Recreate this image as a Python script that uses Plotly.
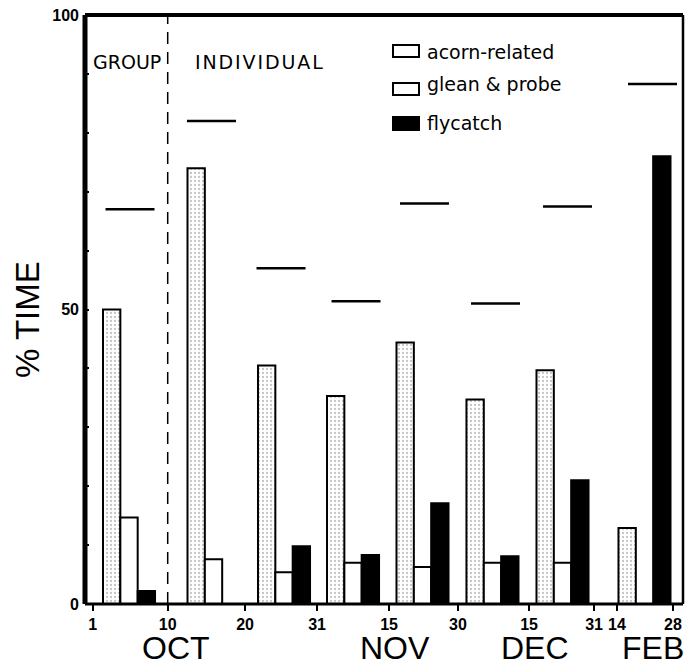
import plotly.graph_objects as go

# ---- data ----
series_names = ["acorn-related", "glean & probe", "flycatch"]
acorn_related = [50, 74, 40.5, 35.3, 44.4, 34.7, 39.7, 12.9]
glean_probe = [14.7, 7.6, 5.4, 7.0, 6.3, 7.0, 7.0, 0]
flycatch = [2.2, 0, 9.8, 8.3, 17.1, 8.1, 21.0, 76]
dash_values = [67, 82, 57, 51.4, 68, 51, 67.5, 88.3]
tick_labels = ["1", "10", "20", "31", "15", "30", "15", "31", "14", "28"]
month_labels = ["OCT", "NOV", "DEC", "FEB"]
y_labels = {0: "0", 50: "50", 100: "100"}

# ---- positions on a 0-100 horizontal scale (layout only) ----
group_x = [7.36, 21.49, 33.28, 44.82, 56.44, 68.14, 79.85, 93.56]
dash_x = [7.53, 21.15, 32.78, 45.32, 56.77, 68.65, 80.69, 94.9]
tick_x = [1.29, 13.83, 26.76, 38.80, 50.84, 62.37, 74.25, 85.12, 88.96, 98.33]
month_x = [15.2, 51.84, 75.25, 95.0]
split_x = 13.83
W = 2.9

FONT = "Liberation Sans"
LFONT = "DejaVu Sans"

fig = go.Figure()
fig.add_trace(go.Bar(
    x=group_x, y=acorn_related, name=series_names[0], width=W, offset=-1.5 * W,
    marker=dict(color="white", line=dict(color="black", width=2),
                pattern=dict(shape=".", fgcolor="#8a8a8a", bgcolor="white",
                             size=4, solidity=0.25)),
    showlegend=False))
fig.add_trace(go.Bar(
    x=group_x, y=glean_probe, name=series_names[1], width=W, offset=-0.5 * W,
    marker=dict(color="white", line=dict(color="black", width=2)),
    showlegend=False))
fig.add_trace(go.Bar(
    x=group_x, y=flycatch, name=series_names[2], width=W, offset=0.5 * W,
    marker=dict(color="black", line=dict(color="black", width=2)),
    showlegend=False))
fig.add_trace(go.Scatter(
    x=dash_x, y=dash_values, mode="markers",
    marker=dict(symbol="line-ew", size=35, line=dict(color="black", width=2.5)),
    showlegend=False, hoverinfo="y"))

shapes = []
# dashed divider
shapes.append(dict(type="line", xref="x", yref="y", x0=split_x, x1=split_x, y0=0, y1=100,
                   line=dict(color="black", width=1.5, dash="12px,8px")))
# frame
shapes.append(dict(type="line", xref="paper", yref="paper", x0=0, x1=1, y0=1, y1=1,
                   line=dict(color="black", width=4)))
shapes.append(dict(type="line", xref="paper", yref="paper", x0=1, x1=1, y0=0, y1=1,
                   line=dict(color="black", width=2.5)))
shapes.append(dict(type="line", xref="paper", yref="paper", x0=0, x1=0, y0=0, y1=1,
                   line=dict(color="black", width=5)))
shapes.append(dict(type="line", xref="paper", yref="paper", x0=0, x1=1, y0=0, y1=0,
                   line=dict(color="black", width=3)))

annotations = []
# legend (manual); helpers convert reference pixel spots to paper coords
PW, PH = 598.0, 589.0
def px(xp):
    return (xp - 85) / PW
def py(yp):
    return (604 - yp) / PH

legend_rows = [(45, 57, 52), (83, 95, 84), (117, 130, 123)]
legend_fill = ["white", "white", "black"]
for name, (y0, y1, yc), fill in zip(series_names, legend_rows, legend_fill):
    shapes.append(dict(type="rect", xref="paper", yref="paper",
                       x0=px(393), x1=px(419), y0=py(y1), y1=py(y0),
                       fillcolor=fill, line=dict(color="black", width=2)))
    annotations.append(dict(text=name, xref="paper", yref="paper", x=px(425), y=py(yc),
                            xanchor="left", yanchor="middle", showarrow=False,
                            font=dict(family=LFONT, size=19, color="black")))

annotations.append(dict(text="GROUP", xref="paper", yref="paper", x=px(91), y=py(62),
                        xanchor="left", yanchor="middle", showarrow=False,
                        font=dict(family=LFONT, size=19, color="black")))
annotations.append(dict(text="\u200a".join("INDIVIDUAL"), xref="paper", yref="paper",
                        x=px(193), y=py(62), xanchor="left", yanchor="middle", showarrow=False,
                        font=dict(family=LFONT, size=19, color="black")))

for m, mx in zip(month_labels, month_x):
    annotations.append(dict(text=m, xref="x", yref="paper", x=mx, y=-(648 - 604) / PH,
                            xanchor="center", yanchor="middle", showarrow=False,
                            font=dict(family=FONT, size=32, color="black")))

annotations.append(dict(text="% TIME", xref="paper", yref="paper", x=(27 - 85) / PW,
                        y=py(320), xanchor="center", yanchor="middle", textangle=-90,
                        showarrow=False, font=dict(family=FONT, size=33, color="black")))

fig.update_layout(
    width=686, height=665,
    margin=dict(l=85, r=3, t=15, b=61),
    paper_bgcolor="white", plot_bgcolor="white",
    barmode="overlay",
    shapes=shapes, annotations=annotations,
    showlegend=False,
    xaxis=dict(range=[0, 100], tickmode="array", tickvals=tick_x, ticktext=tick_labels,
               ticks="outside", ticklen=6, tickwidth=2, tickcolor="black",
               showgrid=False, zeroline=False, showline=False,
               ticklabeloverflow="allow",
               tickfont=dict(family=FONT, size=16, color="black", weight="bold")),
    yaxis=dict(range=[0, 100], tickmode="array", tickvals=list(range(0, 101, 10)),
               ticktext=[y_labels.get(v, "") for v in range(0, 101, 10)],
               ticks="inside", ticklen=4, tickwidth=1.5, tickcolor="black",
               ticklabelstandoff=5, ticklabeloverflow="allow",
               showgrid=False, zeroline=False, showline=False,
               tickfont=dict(family=FONT, size=16, color="black", weight="bold")),
)

# remove the page's default body margin so the figure fills the window exactly
fig.write_html("out.html", config={"displayModeBar": False},
               post_script="document.body.style.margin='0';document.body.style.overflow='hidden';")
